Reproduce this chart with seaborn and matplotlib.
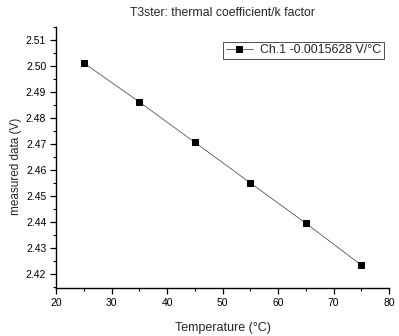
import matplotlib
matplotlib.use("Agg")
import matplotlib.pyplot as plt
import numpy as np
import pandas as pd
import seaborn as sns
from matplotlib.ticker import MultipleLocator

sns.set_style("ticks")
plt.rcParams['font.family'] = ['Liberation Sans', 'DejaVu Sans']

# data
temperature = [25, 35, 45, 55, 65, 75]
measured = [2.5012, 2.4862, 2.4707, 2.4551, 2.4396, 2.4235]
series_label = "Ch.1 -0.0015628 V/°C"

df = pd.DataFrame({"Temperature": temperature, "measured": measured})

fig = plt.figure(figsize=(3.99, 3.36), dpi=100)
ax = fig.add_axes([0.1404, 0.1429, 0.975 - 0.1404, 0.9196 - 0.1429])

sns.lineplot(data=df, x="Temperature", y="measured", ax=ax,
             color="#555555", linewidth=0.6, marker="s", markersize=4.5,
             markerfacecolor="black", markeredgecolor="black",
             label=series_label)

ax.set_xlim(20, 80)
ax.set_ylim(2.4147, 2.515)
ax.xaxis.set_major_locator(MultipleLocator(10))
ax.xaxis.set_minor_locator(MultipleLocator(5))
ax.yaxis.set_major_locator(MultipleLocator(0.01))
ax.yaxis.set_minor_locator(MultipleLocator(0.005))
ax.yaxis.set_major_formatter(matplotlib.ticker.FormatStrFormatter('%.2f'))

for s in ["top", "right"]:
    ax.spines[s].set_visible(False)
for s in ["left", "bottom"]:
    ax.spines[s].set_linewidth(1.0)
    ax.spines[s].set_color("black")

ax.tick_params(which="major", direction="out", length=4, width=0.9,
               labelsize=7.5, colors="black", pad=3)
ax.tick_params(which="minor", direction="out", length=2.5, width=0.8, colors="black")

ax.set_xlabel("Temperature (°C)", fontsize=9, labelpad=10.5)
ax.set_ylabel("measured data (V)", fontsize=8.5)
ax.yaxis.set_label_coords(-0.102, 0.465)
ax.set_title("T3ster: thermal coefficient/k factor", fontsize=8.8, pad=8)

leg = ax.legend(loc="upper right", bbox_to_anchor=(0.985, 0.9425), fontsize=8.9,
                frameon=True, fancybox=False, edgecolor="black",
                handlelength=2.2, borderpad=0.2, handletextpad=0.6,
                borderaxespad=0)
leg.get_frame().set_linewidth(0.6)

fig.savefig("out.png", dpi=100)
